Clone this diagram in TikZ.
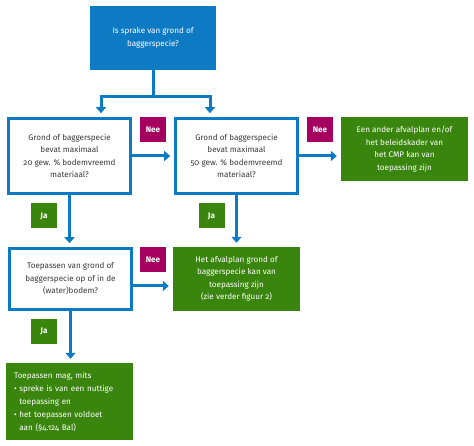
\documentclass[tikz,border=0pt]{standalone}
\usepackage{fontspec}
\setmainfont[Numbers=OldStyle]{Fira Sans}
\usetikzlibrary{arrows.meta,calc}
\definecolor{roblue}{HTML}{0F7AC4}
\definecolor{rogreen}{HTML}{3A850E}
\definecolor{roviolet}{HTML}{A50060}
\definecolor{rotext}{HTML}{3A3A3A}
\tikzset{
  box/.style={minimum width=#1, inner sep=2pt, align=center, font=\fontsize{8.1}{12.5}\selectfont},
  question/.style={box=122pt, draw=roblue, line width=2.6pt, fill=white, text=rotext},
  answer/.style={box=127pt, fill=rogreen, text=white},
  tag/.style={minimum width=26pt, minimum height=25pt, inner sep=0pt, text=white,
    font=\fontsize{8.1}{10}\selectfont\bfseries},
  nee/.style={tag, fill=roviolet},
  ja/.style={tag, fill=rogreen},
  flow/.style={draw=roblue, line width=3pt},
  arr/.style={flow, -{Triangle[width=10pt,length=6pt]}, shorten >=4pt}
}
\begin{document}
\begin{tikzpicture}[x=1pt,y=-1pt]
\useasboundingbox[fill=white] (0,0) rectangle (474,446);
% questions
\node[box=126pt, minimum height=64pt, fill=roblue, text=white] (top) at (153,38)
  {Is sprake van grond of\\baggerspecie?};
\node[question, minimum height=75pt] (q1) at (69.5,156)
  {Grond of baggerspecie\\bevat maximaal\\20 gew. \% bodemvreemd\\materiaal?};
\node[question, minimum height=75pt] (q2) at (236.5,156)
  {Grond of baggerspecie\\bevat maximaal\\50 gew. \% bodemvreemd\\materiaal?};
\node[question, minimum height=61pt] (q3) at (70.5,279)
  {Toepassen van grond of\\baggerspecie op of in de\\(water)bodem?};
% outcomes
\node[answer, minimum height=64pt] (res1) at (404.5,149)
  {Een ander afvalplan en/of\\het beleidskader van\\het CMP kan van\\toepassing zijn};
\node[answer, minimum height=64pt] (res2) at (236.5,279)
  {Het afvalplan grond of\\baggerspecie kan van\\toepassing zijn\\(zie verder figuur 2)};
\node[answer, minimum height=77pt, align=left, text width=111pt] (res3) at (69.5,401.5)
  {Toepassen mag, mits\\[1pt]
   \textbullet\ spreke is van een nuttige\\\hphantom{\textbullet\ }toepassing en\\[1pt]
   \textbullet\ het toepassen voldoet\\\hphantom{\textbullet\ }aan (\S4.124 Bal)};
% tags
\node[nee] (nee1) at (153,129.5) {Nee};
\node[nee] (nee2) at (320,129.5) {Nee};
\node[nee] (nee3) at (153,260) {Nee};
\node[ja] (ja1) at (44,216) {Ja};
\node[ja] (ja2) at (211.5,216) {Ja};
\node[ja] (ja3) at (44,331.5) {Ja};
% connectors
\coordinate (splitl) at (101,97);
\coordinate (splitr) at (210,97);
\draw[flow] (top.south) -- (top.south |- splitl);
\draw[flow, line cap=rect] (splitl) -- (splitr);
\draw[arr] (splitl) -- (splitl |- q1.north);
\draw[arr] (splitr) -- (splitr |- q2.north);
\draw[arr] (q1.east) -- (q1.east -| q2.west);
\draw[arr] (q2.east) -- (q2.east -| res1.west);
\draw[arr] (q1.south) -- (q1.south |- q3.north);
\draw[arr] (q2.south) -- (res2.north);
\draw[arr] ([yshift=-7pt]q3.east) -- ([yshift=-7pt]q3.east -| res2.west);
\draw[arr] (q3.south) -- (q3.south |- res3.north);
\end{tikzpicture}
\end{document}
